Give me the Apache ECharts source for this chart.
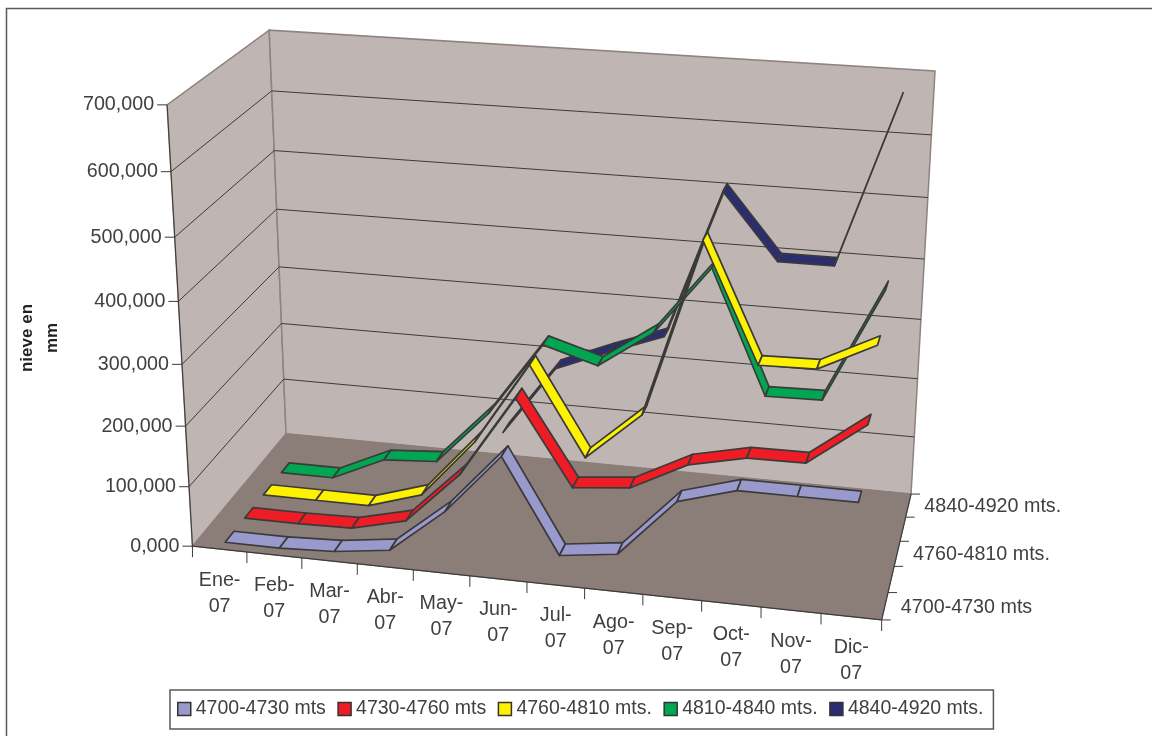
<!DOCTYPE html>
<html><head><meta charset="utf-8"><style>html,body{margin:0;background:#fff}#c{width:1152px;height:736px}</style>
<script src="https://cdn.jsdelivr.net/npm/echarts@6/dist/echarts.min.js"></script></head><body><div id="c"></div>
<script>
// Monthly snow depth per altitude band, drawn as a 3D ribbon chart.
const months=['Ene-\n07','Feb-\n07','Mar-\n07','Abr-\n07','May-\n07','Jun-\n07','Jul-\n07','Ago-\n07','Sep-\n07','Oct-\n07','Nov-\n07','Dic-\n07'];
const valueTicks=[0,100000,200000,300000,400000,500000,600000,700000];
const valueLabels=['0,000','100,000','200,000','300,000','400,000','500,000','600,000','700,000'];
const bands=['4700-4730 mts','4730-4760 mts','4760-4810 mts.','4810-4840 mts.','4840-4920 mts.'];
const band4700=[0,0,4000,16000,90000,189000,37000,49000,144000,171000,171000,171000];
const band4730=[0,0,2000,24000,112000,246000,108000,117000,164000,184000,185000,255000];
const band4760=[0,0,0,28000,128000,265000,119000,199000,487000,297000,299000,345000];
const band4810=[0,0,41000,47000,140000,264000,237000,300000,413000,211000,213000,400000];
const band4840=[null,null,null,null,69000,189000,226000,260000,507000,400000,400000,670000];
const bandValues=[band4700,band4730,band4760,band4810,band4840];
const colors=['#9999cc','#ee1c25','#fff200','#00a651','#2b2d6e'];

// Box corners (x, y, depth on 0..1) and where they land on the page; the camera is fitted to them.
const anchors=[[0,0,0,192.5,546],[0,1,0,167,105],[0,0,1,286,434],[0,1,1,269.3,30],[1,1,1,935,71],[1,0,1,911,494],[1,0,0,881.7,620]];
function fitCamera(){
 const R=[],S=[];
 anchors.forEach(([x,y,z,u,v])=>{R.push([x,y,z,1,0,0,0,0,-u*x,-u*y,-u*z]);S.push(u);R.push([0,0,0,0,x,y,z,1,-v*x,-v*y,-v*z]);S.push(v);});
 const n=11,M=[];
 for(let i=0;i<n;i++){M.push(new Array(n+1).fill(0));for(let j=0;j<n;j++)R.forEach(r=>M[i][j]+=r[i]*r[j]);R.forEach((r,k)=>M[i][n]+=r[i]*S[k]);M[i][i]+=1e-6;}
 for(let i=0;i<n;i++){let p=i;for(let k=i;k<n;k++)if(Math.abs(M[k][i])>Math.abs(M[p][i]))p=k;[M[i],M[p]]=[M[p],M[i]];for(let k=0;k<n;k++)if(k!==i){const f=M[k][i]/M[i][i];for(let j=i;j<=n;j++)M[k][j]-=f*M[i][j];}}
 return M.map((r,i)=>r[n]/r[i]);
}
const c=fitCamera();
function proj(x,y,z){const w=c[8]*x+c[9]*y+c[10]*z+1;return [(c[0]*x+c[1]*y+c[2]*z+c[3])/w,(c[4]*x+c[5]*y+c[6]*z+c[7])/w];}
const ribbon=[0.275,0.725];
const GW=1000,GH=700;
const chart=echarts.init(document.getElementById('c'));
const series=bands.map((b,s)=>({name:b,type:'custom',coordinateSystem:'cartesian2d',clip:false,z:10-s,itemStyle:{color:colors[s]},data:bandValues[s].map((v,i)=>[i,v]),renderItem(p,api){
 const i=p.dataIndexInside;
 if(i+1>=p.dataInsideLength)return null;
 const v0=api.value(1,i),v1=api.value(1,i+1);
 if(isNaN(v0)||isNaN(v1))return null;
 const a=api.coord([i,v0]),e=api.coord([i+1,v1]);
 const z0=(s+ribbon[0])/5,z1=(s+ribbon[1])/5;
 const n=q=>[q[0]/GW,1-q[1]/GH];
 const A=n(a),B=n(e);
 return {type:'polygon',shape:{points:[proj(A[0],A[1],z0),proj(B[0],B[1],z0),proj(B[0],B[1],z1),proj(A[0],A[1],z1)]},style:{fill:colors[s],stroke:'#3a3a3a',lineWidth:1.7,lineJoin:'round'}};
}}));
const frame={type:'custom',coordinateSystem:'none',silent:true,z:1,data:[0],renderItem(){
 const ch=[];
 const poly=(pts,fill,stroke,w)=>ch.push({type:'polygon',shape:{points:pts},style:{fill,stroke,lineWidth:w}});
 const line=(a,b,stroke,w)=>ch.push({type:'line',shape:{x1:a[0],y1:a[1],x2:b[0],y2:b[1]},style:{stroke,lineWidth:w}});
 const txt=(x,y,t,align,vert)=>ch.push({type:'text',style:{x,y,text:t,fill:'#404040',font:'19.7px "Liberation Sans"',align,verticalAlign:vert,lineHeight:26}});
 ch.push({type:'rect',shape:{x:6.5,y:8.5,width:1300,height:900},style:{fill:'#fff',stroke:'#5a5a5a',lineWidth:1.5}});
 const wall='#bfb5b2',floor='#8b7d78',edge='#8f837f';
 poly([proj(0,0,0),proj(0,1,0),proj(0,1,1),proj(0,0,1)],wall,edge,1.5);
 poly([proj(0,0,1),proj(0,1,1),proj(1,1,1),proj(1,0,1)],wall,edge,1.5);
 poly([proj(0,0,0),proj(0,0,1),proj(1,0,1),proj(1,0,0)],floor,floor,1);
 valueTicks.forEach((v,k)=>{
  const y=v/700000;
  if(v>0&&v<700000){line(proj(0,y,0),proj(0,y,1),'#3c3c3c',1);line(proj(0,y,1),proj(1,y,1),'#3c3c3c',1);}
  const q=proj(0,y,0);line([q[0]-10,q[1]],q,'#3c3c3c',1);
  txt(q[0]-13,q[1],valueLabels[k],'right','middle');
 });
 line(proj(0,0,0),proj(0,1,0),'#3c3c3c',1);
 line(proj(0,0,0),proj(1,0,0),'#3c3c3c',1.2);
 line(proj(1,0,0),proj(1,0,1),'#3c3c3c',1.2);
 months.forEach((m,i)=>{const t=proj(i/12,0,0);line(t,[t[0],t[1]+11],'#3c3c3c',1);const q=proj((i+.5)/12,0,0);txt(q[0],q[1]+18,m,'center','top');});
 const ft=proj(1,0,0);line(ft,[ft[0],ft[1]+11],'#3c3c3c',1);
 for(let k=0;k<=5;k++){const q=proj(1,0,k/5);line(q,[q[0]+9,q[1]],'#3c3c3c',1);}
 bands.forEach((b,s)=>{if(s%2===0){const q=proj(1,0,(s+.5)/5);txt(q[0]+16,q[1]+1,b,'left','middle');}});
 ch.push({type:'text',x:40,y:338,rotation:Math.PI/2,style:{x:0,y:0,text:'nieve en\nmm',fill:'#222',font:'bold 17px "Liberation Sans"',align:'center',verticalAlign:'middle',lineHeight:25}});
 return {type:'group',children:ch};
}};
chart.setOption({animation:false,backgroundColor:'#fff',
 grid:{left:0,top:0,width:GW,height:GH,containLabel:false},
 xAxis:{type:'category',data:months,show:false},
 yAxis:{type:'value',min:0,max:700000,interval:100000,show:false},
 legend:{data:bands,left:170,top:690,padding:[9,10,10,7],itemWidth:13,itemHeight:13,itemGap:11.5,icon:'rect',borderColor:'#5a5a5a',borderWidth:1.5,backgroundColor:'#fff',textStyle:{color:'#404040',fontFamily:'Liberation Sans',fontSize:19.5},itemStyle:{borderColor:'#333',borderWidth:1.5},selectedMode:false},
 series:[frame].concat(series)});
</script></body></html>
